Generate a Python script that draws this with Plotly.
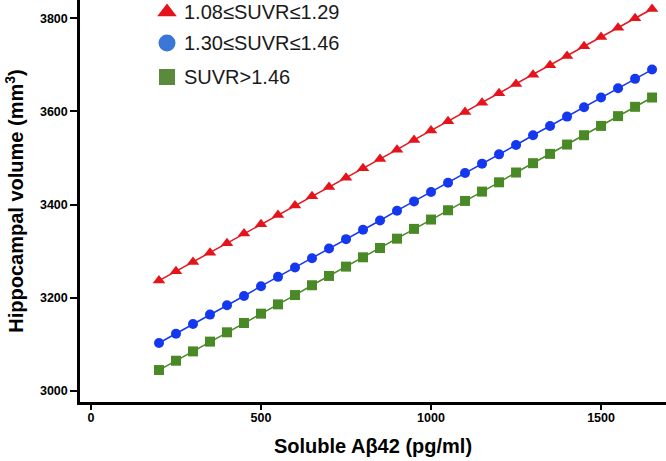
import plotly.graph_objects as go

x_vals = [200, 250, 300, 350, 400, 450, 500, 550, 600, 650, 700, 750, 800, 850, 900,
          950, 1000, 1050, 1100, 1150, 1200, 1250, 1300, 1350, 1400, 1450, 1500, 1550, 1600, 1650]
red_vals = [3237, 3257, 3277, 3297, 3317, 3338, 3358, 3378, 3398, 3418, 3438, 3458, 3478, 3498, 3518,
            3539, 3559, 3579, 3599, 3619, 3639, 3659, 3679, 3699, 3719, 3740, 3760, 3780, 3800, 3820]
blue_vals = [3103, 3123, 3144, 3164, 3184, 3204, 3225, 3245, 3265, 3285, 3306, 3326, 3346, 3366, 3387,
             3407, 3427, 3447, 3468, 3488, 3508, 3528, 3549, 3569, 3589, 3609, 3630, 3650, 3670, 3690]
green_vals = [3045, 3065, 3085, 3106, 3126, 3146, 3166, 3186, 3206, 3227, 3247, 3267, 3287, 3307, 3327,
              3348, 3368, 3388, 3408, 3428, 3448, 3469, 3489, 3509, 3529, 3549, 3569, 3590, 3610, 3630]

series_names = ["1.08≤SUVR≤1.29", "1.30≤SUVR≤1.46", "SUVR>1.46"]
x_ticks = [0, 500, 1000, 1500]
y_ticks = [3000, 3200, 3400, 3600, 3800]

FONT = "Liberation Sans, Arial, sans-serif"

# (values, line/marker colour, symbol, marker size, legend colour, legend size)
styles = [
    (red_vals, "#e5141c", "triangle-up", 11, "#e3121b", 17),
    (blue_vals, "#1438f0", "circle", 10, "#3a76d6", 17),
    (green_vals, "#4a8a26", "square", 10, "#5a8a3c", 16),
]

fig = go.Figure()

for name, (vals, col, sym, size, lcol, lsize) in zip(series_names, styles):
    fig.add_trace(go.Scatter(
        x=x_vals, y=vals, mode="lines+markers", name=name,
        line=dict(color=col, width=1.5),
        marker=dict(color=col, symbol=sym, size=size, line=dict(width=0)),
        showlegend=False,
    ))

# legend drawn on an overlay axis measured in pixels of the plot area
legend_x = 167
legend_text_x = 182
legend_y = [12, 43, 77]
for name, (vals, col, sym, size, lcol, lsize), ly in zip(series_names, styles, legend_y):
    fig.add_trace(go.Scatter(
        x=[legend_x], y=[ly], xaxis="x2", yaxis="y2", mode="markers",
        marker=dict(color=lcol, symbol=sym, size=lsize, line=dict(width=0)),
        showlegend=False, hoverinfo="skip",
    ))
    fig.add_annotation(
        x=legend_text_x, y=ly, xref="x2", yref="y2", text=name, showarrow=False,
        xanchor="left", yanchor="middle", font=dict(size=20, color="#1a1a1a", family=FONT),
    )

fig.update_layout(
    width=666, height=461,
    margin=dict(l=80, r=0, t=0, b=59),
    plot_bgcolor="white", paper_bgcolor="white",
    font=dict(family=FONT, color="black"),
    showlegend=False,
    xaxis=dict(
        range=[-32.3, 1691], tickvals=x_ticks, ticktext=[str(v) for v in x_ticks],
        showgrid=False, zeroline=False, showline=True, linecolor="black", linewidth=2.5,
        ticks="outside", ticklen=5, tickwidth=2, tickcolor="black", automargin=False,
        ticklabelstandoff=-3,
        tickfont=dict(size=12.5, family=FONT, weight="bold"),
        title=dict(text="<b>Soluble Aβ42 (pg/ml)</b>", font=dict(size=20), standoff=16),
    ),
    yaxis=dict(
        range=[2976.4, 3839.3], tickvals=y_ticks, ticktext=[str(v) for v in y_ticks],
        showgrid=False, zeroline=False, showline=True, linecolor="black", linewidth=2.5,
        ticks="outside", ticklen=7, tickwidth=2, tickcolor="black", automargin=False,
        tickfont=dict(size=12.5, family=FONT, weight="bold"),
        title=dict(text="<b>Hippocampal volume (mm<sup>3</sup>)</b>", font=dict(size=20), standoff=11),
    ),
    xaxis2=dict(overlaying="x", range=[80, 666], visible=False, fixedrange=True),
    yaxis2=dict(overlaying="y", range=[402, 0], visible=False, fixedrange=True),
)

fig.write_html("out.html", config={"displayModeBar": False},
               post_script="document.body.style.margin='0';window.dispatchEvent(new Event('resize'));")
